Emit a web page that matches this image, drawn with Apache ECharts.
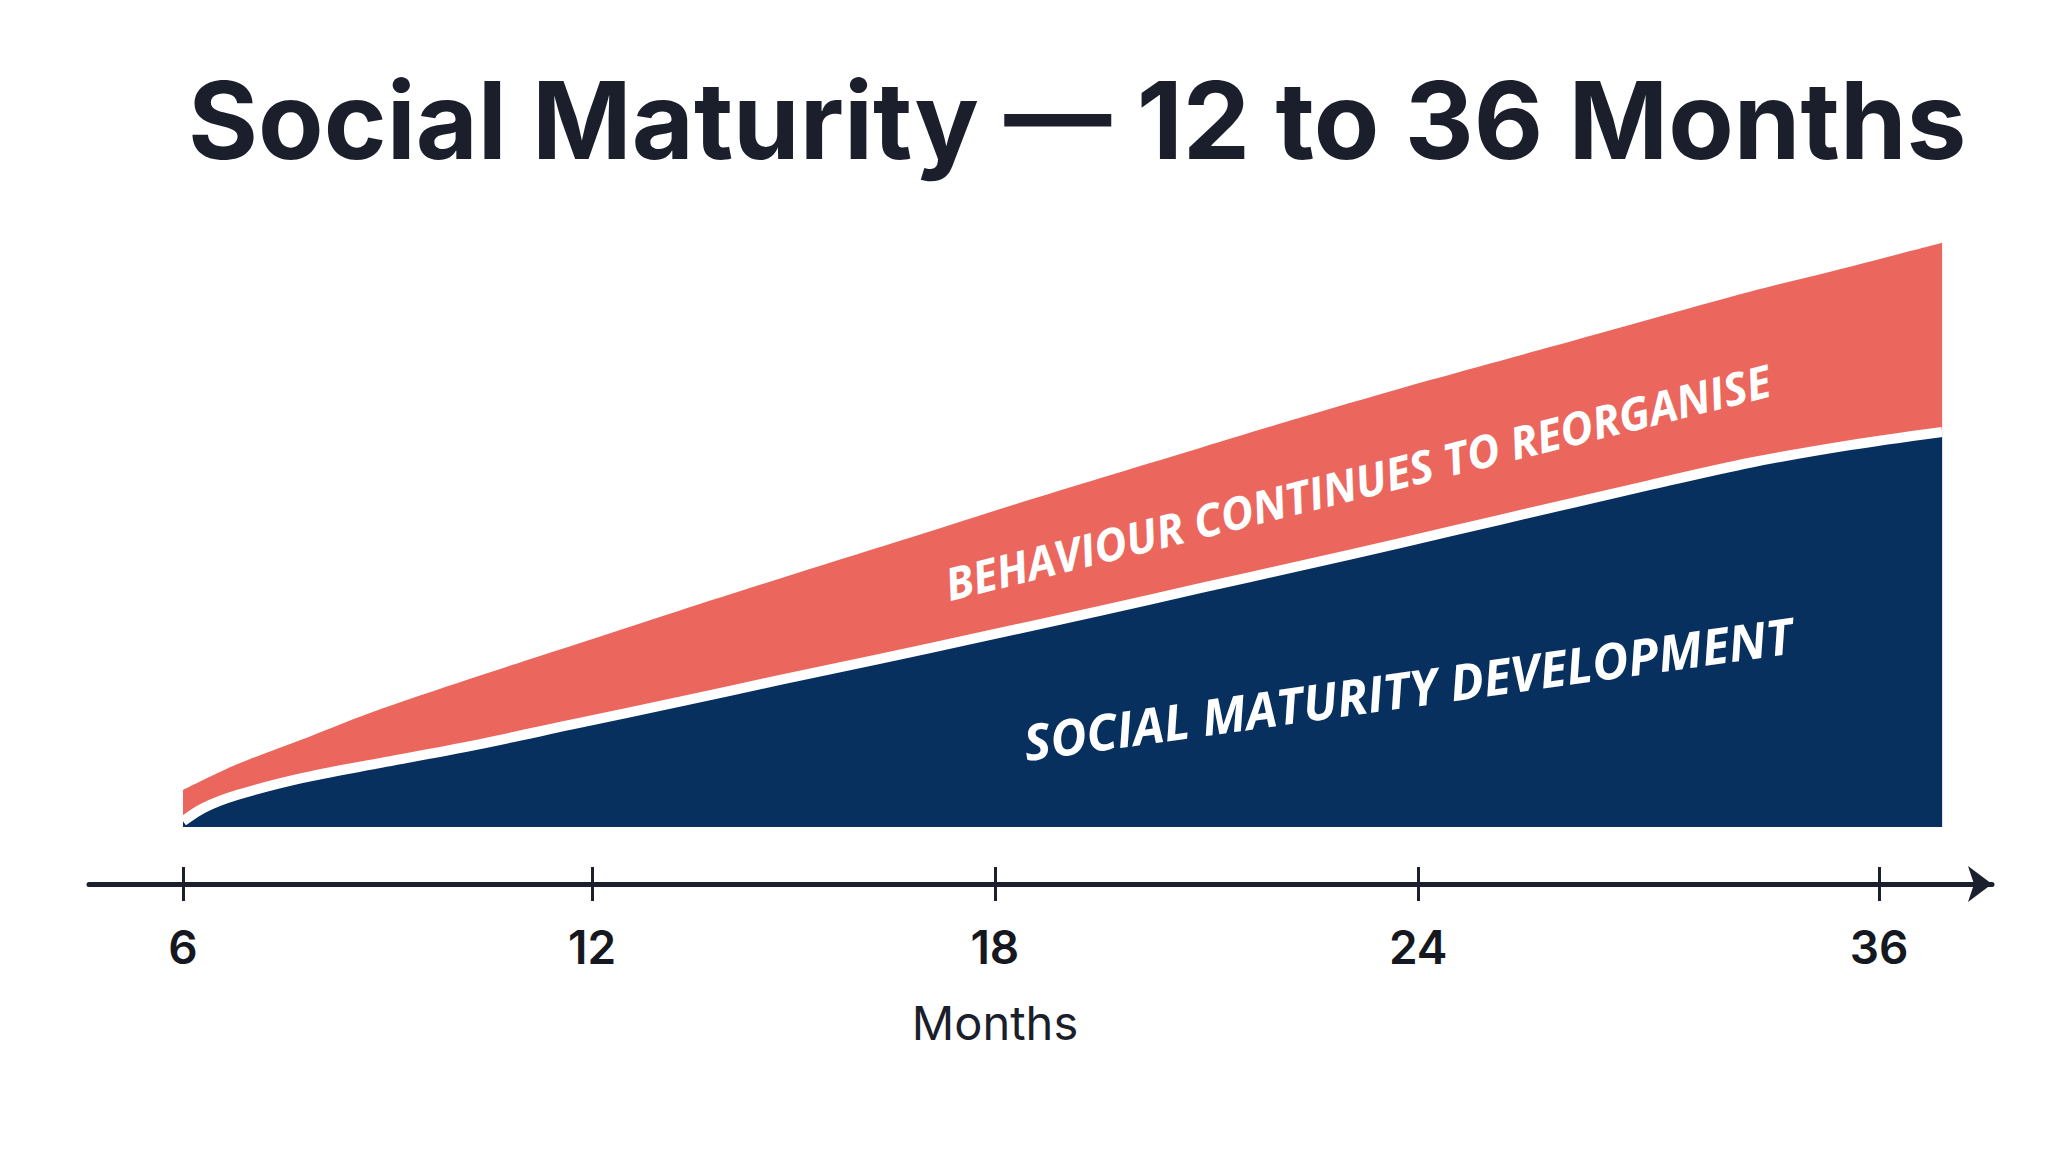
<!DOCTYPE html>
<html>
<head>
<meta charset="utf-8">
<script src="https://cdn.jsdelivr.net/npm/echarts@6/dist/echarts.min.js"></script>
<style>html,body{margin:0;padding:0;background:#fff}#c{width:2048px;height:1152px}</style>
</head>
<body>
<div id="c"></div>
<script>
// ---- data ----
const titleText = 'Social Maturity \u2014 12 to 36 Months';
const axisName = 'Months';
const tickMonths = [6, 12, 18, 24, 36];
// position of each tick along the (unevenly spaced) timeline, in timeline units
const tickPos = [0, 1, 1.985, 3.02, 4.147];
const axisMin = -0.2298;
const axisMax = 4.423;

// Social maturity development (top of the navy area)
const navyPos = [0, 0.049, 0.132, 0.293, 0.457, 0.702, 0.946, 1.215, 1.460, 1.704, 1.949, 2.242, 2.487, 2.731, 2.976, 3.220, 3.587, 3.831, 4.076, 4.301];
const navyVal = [1.0, 3.3, 5.6, 8.6, 10.9, 14.2, 17.9, 22.0, 25.8, 29.5, 33.3, 37.9, 41.9, 45.8, 49.8, 53.9, 60.0, 63.9, 67.0, 69.3];
// Behaviour continues to reorganise (top of the red band)
const redPos = [0, 0.132, 0.293, 0.457, 0.702, 0.971, 1.215, 1.460, 1.753, 1.998, 2.242, 2.487, 2.731, 3.049, 3.342, 3.587, 3.831, 4.076, 4.301];
const redVal = [6.5, 11.0, 15.4, 20.0, 26.0, 32.3, 38.0, 43.6, 50.2, 55.8, 61.2, 66.5, 71.8, 78.4, 84.2, 89.1, 93.9, 98.3, 102.5];

const label1 = 'BEHAVIOUR CONTINUES TO REORGANISE';
const label2 = 'SOCIAL MATURITY DEVELOPMENT';
const label1Anchor = [2.872, 60.6];
const label2Anchor = [2.995, 24.3];

// ---- chart ----
const chart = echarts.init(document.getElementById('c'), null, {renderer: 'svg', width: 2048, height: 1152});
const dark = '#1B1F2E';
const fmt = v => {
  const i = tickPos.findIndex(p => Math.abs(p - v) < 1e-6);
  return i >= 0 ? String(tickMonths[i]) : '';
};
const option = {
  backgroundColor: '#ffffff',
  animation: false,
  title: [
    {text: titleText, left: 183, top: 61,
     textStyle: {fontFamily: 'Inter', fontWeight: 700, fontSize: 107, lineHeight: 107, color: '#1B1E2B'}},
    {text: axisName, left: 990, top: 994, textAlign: 'center',
     textStyle: {fontFamily: 'Inter', fontWeight: 400, fontSize: 47, lineHeight: 47, color: '#1B1E2B'}}
  ],
  grid: {left: 89, right: 56, top: 200, bottom: 268, containLabel: false},
  xAxis: [
    {type: 'value', min: axisMin, max: axisMax, position: 'bottom',
     axisLine: {show: true, onZero: false, symbol: ['none', 'arrow'], symbolSize: [27, 24],
                lineStyle: {color: dark, width: 5}},
     axisTick: {show: true, inside: false, length: 17, customValues: tickPos, lineStyle: {color: dark, width: 3}},
     axisLabel: {show: true, customValues: tickPos, formatter: fmt, margin: 40,
                 fontFamily: 'Inter', fontWeight: 600, fontSize: 46, color: '#151821'},
     splitLine: {show: false}},
    {type: 'value', min: axisMin, max: axisMax, position: 'bottom',
     axisLine: {show: false, onZero: false},
     axisTick: {show: true, inside: true, length: 17, customValues: tickPos, lineStyle: {color: dark, width: 3}},
     axisLabel: {show: false},
     splitLine: {show: false}}
  ],
  yAxis: {type: 'value', min: -10, max: 110, show: false},
  series: [
    {name: 'Behaviour continues to reorganise', type: 'line', xAxisIndex: 0,
     data: redPos.map((p, i) => [p, redVal[i]]),
     smooth: 0.3, symbol: 'none', z: 2,
     lineStyle: {width: 0, color: '#EB675D'},
     areaStyle: {color: '#EB675D', opacity: 1}},
    {name: 'Social maturity development', type: 'line', xAxisIndex: 0,
     data: navyPos.map((p, i) => [p, navyVal[i]]),
     smooth: 0.3, symbol: 'none', z: 3,
     lineStyle: {width: 10, color: '#ffffff'},
     areaStyle: {color: '#07305F', opacity: 1}}
  ]
};
chart.setOption(option);

const p1 = chart.convertToPixel({xAxisIndex: 0, yAxisIndex: 0}, label1Anchor);
const p2 = chart.convertToPixel({xAxisIndex: 0, yAxisIndex: 0}, label2Anchor);
chart.setOption({
  graphic: [
    {type: 'text', x: p1[0], y: p1[1], rotation: 14 * Math.PI / 180, z: 10,
     style: {text: label1, fill: '#ffffff', font: 'italic 700 45px "Open Sans"', align: 'center', verticalAlign: 'middle',
             shadowBlur: 3, shadowColor: 'rgba(0,0,0,0.2)', shadowOffsetY: 1}},
    {type: 'text', x: p2[0], y: p2[1], rotation: 8 * Math.PI / 180, z: 10,
     style: {text: label2, fill: '#ffffff', font: 'italic 700 50px "Open Sans"', align: 'center', verticalAlign: 'middle',
             shadowBlur: 3, shadowColor: 'rgba(0,0,0,0.2)', shadowOffsetY: 1}}
  ]
});
</script>
</body>
</html>
